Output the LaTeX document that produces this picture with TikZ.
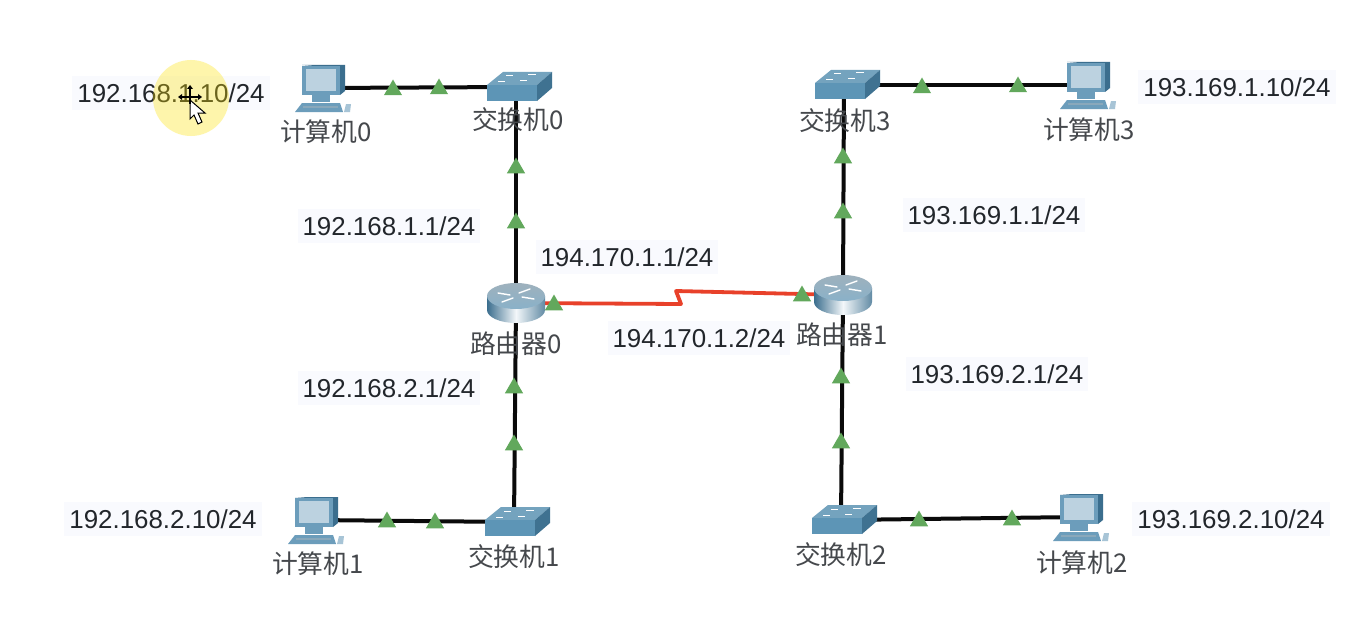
\documentclass[tikz,border=0pt]{standalone}
\usepackage{fontspec}
\setmainfont{Liberation Sans}
\newfontfamily\cjkfont{Noto Sans CJK SC}
\usetikzlibrary{shapes.geometric}
\definecolor{lk}{HTML}{0A0A0A}
\definecolor{serial}{HTML}{E8412A}
\definecolor{tri}{HTML}{62A85C}
\definecolor{labbg}{HTML}{F9FAFE}
\definecolor{txt}{HTML}{22262B}
\definecolor{nm}{HTML}{45484C}
\definecolor{swtop}{HTML}{74A3BE}
\definecolor{swfront}{HTML}{5D95B6}
\definecolor{swside}{HTML}{3F7291}
\definecolor{pcbody}{HTML}{6C9DBB}
\definecolor{pcdark}{HTML}{3B6E8E}
\definecolor{pcscreen}{HTML}{BCD2E0}
\tikzset{
  x=1pt,y=-1pt,
  anchorpt/.style={coordinate},
  wire/.style={draw=lk,line width=4pt},
  seriallink/.style={draw=serial,line width=3.8pt,line join=round},
  mark tri/.style={regular polygon,regular polygon sides=3,fill=tri,inner sep=0pt,minimum size=21pt},
  addr/.style={fill=labbg,text=txt,font=\fontsize{25.9}{30}\selectfont,inner xsep=5pt,inner ysep=7pt},
  devname/.style={text=nm,inner sep=0pt,font=\cjkfont\fontsize{25.8}{30}\selectfont},
  pcicon/.pic={
    \fill[pcdark] (-20,-23)--(-14,-23)--(23,-23)--(23,3)--(18,7)--(18,-20)--cycle;
    \fill[pcbody] (-20,-22) rectangle (18,7);
    \fill[pcscreen] (-16,-19) rectangle (14,3);
    \fill[pcbody] (-10,7) rectangle (8,14);
    \fill[pcbody] (-27,24)--(-20,15)--(18,15)--(21,24)--cycle;
    \fill[pcdark!60] (-19,18) rectangle (16,20);
    \fill[pcbody!60] (24,16)--(29,16)--(28,24)--(22,24)--cycle;
  },
  swicon/.pic={
    \fill[swtop] (-29,-2)--(-13,-15)--(36,-15)--(21,-2)--cycle;
    \fill[swfront] (-29,-2) rectangle (21,14);
    \fill[swside] (21,-2)--(36,-15)--(36,1)--(21,14)--cycle;
    \draw[white,line width=1pt] (-10,-11)--(-3,-11) (12,-12)--(20,-12) (-18,-5)--(-11,-5) (4,-6)--(11,-6);
  },
  rticon/.pic={
    \shade[left color=pcdark,right color=pcdark!80,middle color=white!92!pcbody]
      (-29,-7) -- (-29,7) arc[start angle=180,end angle=360,x radius=29,y radius=-13] -- (29,-7) -- cycle;
    \shade[top color=pcbody!55!gray!70,bottom color=pcbody!80!white] (0,-7) ellipse[x radius=29,y radius=13];
    \draw[white,line width=1.4pt,line cap=round]
      (-18,-10)--(-6,-8) (18,-4)--(6,-6) (-14,-1)--(-3,-5) (14,-14)--(3,-10);
  },
}
\begin{document}
\begin{tikzpicture}[x=1pt,y=-1pt]
\useasboundingbox (0,0) rectangle (1350,626);
\fill[white] (0,0) rectangle (1350,626);

% address labels
\node[addr] (a1) at (171,93) {192.168.1.10/24};
\node[addr] (a2) at (389,226) {192.168.1.1/24};
\node[addr] (a3) at (627,257) {194.170.1.1/24};
\node[addr] (a4) at (699,338) {194.170.1.2/24};
\node[addr] (a5) at (389,388) {192.168.2.1/24};
\node[addr] (a6) at (163,519) {192.168.2.10/24};
\node[addr] (a7) at (1237,87) {193.169.1.10/24};
\node[addr] (a8) at (994,215) {193.169.1.1/24};
\node[addr] (a9) at (997,374) {193.169.2.1/24};
\node[addr] (a10) at (1231,519) {193.169.2.10/24};

% device positions
\node[anchorpt] (pc0) at (322,88) {};
\node[anchorpt] (pc1) at (315,520) {};
\node[anchorpt] (pc2) at (1080,517) {};
\node[anchorpt] (pc3) at (1087,85) {};
\node[anchorpt] (sw0) at (516,87) {};
\node[anchorpt] (sw1) at (514,522) {};
\node[anchorpt] (sw2) at (841,520) {};
\node[anchorpt] (sw3) at (844,85) {};
\node[anchorpt] (r0) at (516,303) {};
\node[anchorpt] (r1) at (843,295) {};
\node[anchorpt] (z1) at (681,304) {};
\node[anchorpt] (z2) at (676,291) {};

% connectors
\draw[wire] (pc0) -- (sw0);
\draw[wire] (pc1) -- (sw1);
\draw[wire] (pc2) -- (sw2);
\draw[wire] (pc3) -- (sw3);
\draw[wire] (sw0) -- (r0);
\draw[wire] (sw1) -- (r0);
\draw[wire] (sw2) -- (r1);
\draw[wire] (sw3) -- (r1);
\draw[seriallink] (r0) -- (z1) -- (z2) -- (r1);

% icons
\pic at (pc0) {pcicon};
\pic at (pc1) {pcicon};
\pic at (pc2) {pcicon};
\pic at (pc3) {pcicon};
\pic at (sw0) {swicon};
\pic at (sw1) {swicon};
\pic at (sw2) {swicon};
\pic at (sw3) {swicon};
\pic at (r0) {rticon};
\pic at (r1) {rticon};

% link state marks
\foreach \n/\px/\py in {t1/393/90,t2/439/89,t3/516/168,t4/516/223,t5/514/388,t6/514/445,t7/387/522,t8/435/523,t9/554/305,t10/802/296,t11/843/158,t12/843/213,t13/841/378,t14/841/443,t15/922/88,t16/1018/87,t17/919/521,t18/1012/520}
  \node[mark tri] (\n) at (\px,\py) {};

% device names
\node[devname] (n0) at (326,132) {计算机0};
\node[devname] (n1) at (518,120) {交换机0};
\node[devname] (n2) at (516,344) {路由器0};
\node[devname] (n3) at (842,335) {路由器1};
\node[devname] (n4) at (318,564) {计算机1};
\node[devname] (n5) at (514,557) {交换机1};
\node[devname] (n6) at (845,121) {交换机3};
\node[devname] (n7) at (1089,130) {计算机3};
\node[devname] (n8) at (841,555) {交换机2};
\node[devname] (n9) at (1082,563) {计算机2};

% screen-recording cursor highlight
\fill[yellow!85!orange,opacity=.33] (191,98) circle (38);
\fill[white,draw=black,line width=1pt] (190,100)--(190,119)--(194,115)--(198,124)--(202,122)--(198,113)--(205,113)--cycle;
\draw[black,line width=1.2pt] (190,88)--(190,104) (181,97)--(199,97);
\fill[black] (190,85)--(187,89)--(193,89)--cycle (178,97)--(182,94)--(182,100)--cycle (202,97)--(198,94)--(198,100)--cycle;
\end{tikzpicture}
\end{document}
